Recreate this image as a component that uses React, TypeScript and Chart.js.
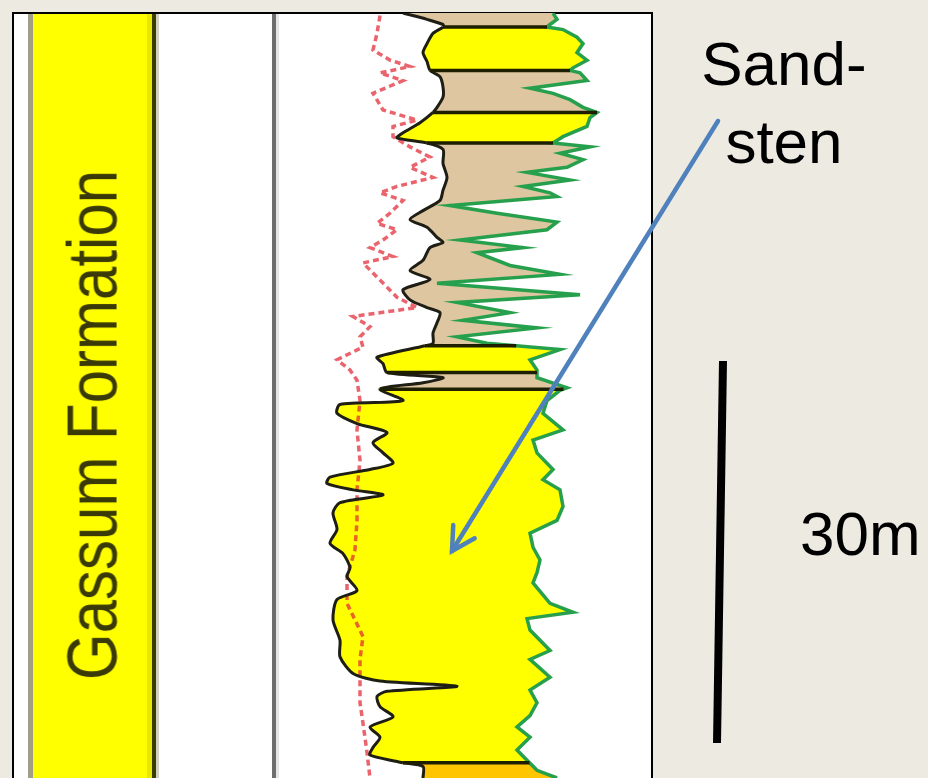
import React, { useEffect, useRef } from 'react';
import { Chart, registerables } from 'chart.js';

Chart.register(...registerables);

// Depth in metres below the top of the shown section
// Black curve (gamma ray), API
const grDepth = [0, 0.5, 0.9, 1.1, 1.6, 2.4, 3.1, 3.8, 4.5, 5.0, 5.8, 6.6, 7.4, 7.8, 8.6, 9.4, 9.8, 10.2, 10.7, 11.8, 12.9, 13.9, 14.7, 15.5, 16.2, 16.8, 17.6, 18.0, 18.4, 19.4, 20.2, 20.9, 21.7, 22.5, 23.1, 23.5, 24.3, 25.1, 25.9, 26.1, 27.0, 27.5, 28.2, 28.6, 29.0, 29.5, 30.4, 30.7, 31.4, 32.2, 32.9, 33.7, 34.5, 35.3, 35.8, 36.4, 36.9, 37.4, 37.8, 38.4, 39.2, 40.5, 41.6, 42.4, 43.5, 44.2, 45.3, 46.0, 47.6, 49.2, 50.5, 51.8, 52.4, 52.8, 53.2, 53.6, 54.4, 55.2, 56.0, 56.8, 57.6, 58.2, 58.7, 58.8, 59.1, 60.0];
const grValue = [50.4, 60.0, 66.4, 66.4, 62.4, 60.0, 58.4, 60.0, 61.2, 65.2, 66.4, 66.4, 64.0, 62.4, 57.2, 50.4, 48.0, 60.0, 66.4, 66.4, 68.0, 66.4, 65.2, 58.4, 53.2, 60.0, 64.0, 66.4, 61.2, 58.4, 53.2, 61.2, 50.4, 53.2, 60.0, 65.2, 64.0, 62.4, 62.4, 59.2, 40.0, 42.4, 44.0, 66.4, 58.4, 41.2, 50.4, 25.2, 24.0, 32.0, 44.0, 38.4, 42.4, 46.4, 37.2, 21.2, 20.0, 30.4, 42.4, 25.2, 22.4, 24.0, 21.2, 26.4, 29.2, 28.0, 32.0, 24.0, 22.4, 25.2, 25.2, 30.4, 41.2, 72.0, 44.0, 40.0, 41.2, 46.4, 37.2, 41.2, 38.4, 37.2, 48.0, 50.4, 58.4, 58.4];

// Green curve
const greenDepth = [0, 0.5, 0.9, 1.1, 1.3, 1.9, 2.4, 3.1, 3.7, 4.3, 4.5, 4.7, 5.3, 5.9, 6.3, 6.8, 7.4, 7.8, 8.2, 8.9, 9.7, 10.2, 10.5, 11.0, 11.5, 12.1, 12.5, 13.1, 13.6, 14.1, 14.4, 15.1, 15.7, 16.4, 17.0, 17.8, 18.4, 18.8, 19.8, 20.5, 21.2, 22.1, 22.7, 23.5, 24.1, 24.7, 25.4, 25.9, 26.4, 27.2, 28.0, 28.6, 29.4, 29.6, 30.4, 31.4, 32.7, 33.5, 34.5, 35.8, 36.6, 37.4, 38.7, 39.8, 40.8, 41.9, 42.9, 43.9, 44.7, 46.3, 47.0, 47.5, 48.4, 50.0, 50.7, 52.1, 53.1, 54.1, 55.1, 56.0, 56.8, 57.8, 58.6, 59.4, 60.0];
const greenValue = [110.4, 112.0, 109.2, 108.0, 114.4, 120.0, 122.4, 120.0, 124.0, 118.4, 117.2, 121.2, 124.0, 101.2, 110.4, 117.2, 122.4, 128.0, 125.2, 124.0, 114.4, 110.4, 125.2, 113.2, 122.4, 116.0, 100.0, 117.2, 98.4, 109.2, 112.0, 69.2, 88.0, 112.0, 108.0, 73.2, 98.4, 80.0, 93.2, 113.2, 64.0, 121.2, 72.0, 93.2, 74.4, 104.0, 72.0, 84.0, 113.2, 101.2, 104.0, 104.0, 116.0, 113.2, 108.0, 106.4, 114.4, 102.4, 104.0, 110.4, 106.4, 113.2, 114.4, 112.0, 101.2, 102.4, 105.2, 104.0, 102.4, 109.2, 118.4, 100.0, 101.2, 109.2, 101.2, 109.2, 101.2, 104.0, 101.2, 96.0, 101.2, 96.0, 100.0, 104.0, 112.0];

// Red dashed curve
const redDepth = [0.2, 1.6, 2.9, 3.7, 4.2, 4.7, 5.3, 6.3, 7.6, 8.4, 8.9, 9.7, 10.5, 11.3, 12.1, 12.9, 13.6, 14.1, 14.7, 15.7, 16.5, 17.0, 17.8, 18.4, 19.1, 19.6, 20.4, 21.5, 22.3, 23.1, 23.8, 24.6, 25.4, 26.2, 27.2, 28.0, 28.8, 30.4, 32.7, 35.1, 37.4, 39.8, 42.1, 44.2, 46.3, 48.9, 50.7, 52.9, 54.1, 55.7, 58.0, 60.0];
const redValue = [41.2, 40.0, 38.4, 45.2, 53.2, 41.2, 50.4, 38.4, 42.4, 56.0, 46.4, 46.4, 53.2, 61.2, 53.2, 62.4, 48.0, 41.2, 50.4, 45.2, 40.0, 48.0, 42.4, 37.2, 46.4, 34.4, 38.4, 44.0, 48.0, 56.0, 30.4, 37.2, 33.2, 34.4, 24.0, 29.2, 32.0, 33.2, 32.0, 33.2, 32.0, 32.0, 31.2, 28.0, 28.0, 34.4, 33.2, 33.2, 33.2, 34.4, 36.0, 37.2];

// Lithology intervals (bed boundaries in m) and lithology of each bed
const bedBoundaries = [0, 1.1, 4.5, 7.8, 10.2, 26.1, 28.2, 29.5, 58.8, 60];
const bedLithology = ['shale', 'sand', 'shale', 'sand', 'shale', 'sand', 'shale', 'sand', 'sand2'];
const lithColors: Record<string, string> = {
  sand: '#FFFF00',
  shale: '#DEC6A0',
  sand2: '#FFC600',
};

const formationName = 'Gassum Formation';
const annotationLabel = ['Sand-', 'sten'];
const scaleLabel = '30m';

const FONT = '"Liberation Sans", Arial, Helvetica, sans-serif';

function lithAt(d: number): string {
  for (let i = 0; i < bedLithology.length; i++) {
    if (d >= bedBoundaries[i] && d <= bedBoundaries[i + 1]) return bedLithology[i];
  }
  return 'shale';
}

function interp(depths: number[], values: number[], d: number): number {
  if (d <= depths[0]) return values[0];
  for (let i = 1; i < depths.length; i++) {
    if (d <= depths[i]) {
      const t = (d - depths[i - 1]) / (depths[i] - depths[i - 1] || 1);
      return values[i - 1] + t * (values[i] - values[i - 1]);
    }
  }
  return values[values.length - 1];
}

const decorPlugin = {
  id: 'decor',
  beforeDraw(chart: any) {
    const ctx = chart.ctx as CanvasRenderingContext2D;
    const W = chart.width;
    const H = chart.height;
    ctx.save();
    ctx.fillStyle = '#ECEAE1';
    ctx.fillRect(0, 0, W, H);
    // white panel
    ctx.fillStyle = '#FFFFFF';
    ctx.fillRect(13, 13, 639, H);
    // formation column
    ctx.fillStyle = '#A39F86';
    ctx.fillRect(28, 14, 5, H);
    ctx.fillStyle = '#FFFF00';
    ctx.fillRect(33, 14, 114, H);
    ctx.fillStyle = '#E8E800';
    ctx.fillRect(147, 14, 5, H);
    ctx.fillStyle = '#3C3C00';
    ctx.fillRect(152, 14, 4, H);
    ctx.fillStyle = '#CFCFC2';
    ctx.fillRect(156, 14, 3, H);
    // track separator
    ctx.fillStyle = '#6E6E6E';
    ctx.fillRect(272, 14, 4, H);
    ctx.fillStyle = '#E6E6E6';
    ctx.fillRect(276, 14, 3, H);
    // panel border
    ctx.strokeStyle = '#000000';
    ctx.lineWidth = 2;
    ctx.beginPath();
    ctx.moveTo(13, H + 5);
    ctx.lineTo(13, 13);
    ctx.lineTo(652, 13);
    ctx.lineTo(652, H + 5);
    ctx.stroke();
    ctx.restore();
  },
  afterDraw(chart: any) {
    const ctx = chart.ctx as CanvasRenderingContext2D;
    ctx.save();
    // scale bar
    ctx.strokeStyle = '#000000';
    ctx.lineWidth = 8;
    ctx.lineCap = 'butt';
    ctx.beginPath();
    ctx.moveTo(723, 361);
    ctx.lineTo(717, 743);
    ctx.stroke();
    // arrow
    const sx = 718, sy = 121, tx = 452, ty = 551;
    ctx.strokeStyle = '#4F81BD';
    ctx.lineWidth = 4.5;
    ctx.lineCap = 'round';
    ctx.beginPath();
    ctx.moveTo(sx, sy);
    ctx.lineTo(tx, ty);
    ctx.stroke();
    const ang = Math.atan2(sy - ty, sx - tx);
    const len = 26;
    const spread = (29 * Math.PI) / 180;
    ctx.beginPath();
    ctx.moveTo(tx + len * Math.cos(ang - spread), ty + len * Math.sin(ang - spread));
    ctx.lineTo(tx, ty);
    ctx.lineTo(tx + len * Math.cos(ang + spread), ty + len * Math.sin(ang + spread));
    ctx.lineJoin = 'miter';
    ctx.stroke();
    ctx.restore();
  },
};

export default function App() {
  const canvasRef = useRef<HTMLCanvasElement | null>(null);

  useEffect(() => {
    if (!canvasRef.current) return;

    const boundaryPts: { x: number | null; y: number }[] = [];
    for (let i = 1; i < bedBoundaries.length - 1; i++) {
      const d = bedBoundaries[i];
      boundaryPts.push({ x: interp(grDepth, grValue, d), y: d });
      boundaryPts.push({ x: interp(greenDepth, greenValue, d), y: d });
      boundaryPts.push({ x: null, y: d });
    }

    const chart = new Chart(canvasRef.current, {
      type: 'line',
      data: {
        datasets: [
          {
            label: 'Bed boundaries',
            data: boundaryPts as any,
            borderColor: '#1E1E00',
            borderWidth: 3.5,
            pointRadius: 0,
            fill: false,
            spanGaps: false,
          },
          {
            label: 'Gamma ray',
            data: grDepth.map((d, i) => ({ x: grValue[i], y: d })),
            borderColor: '#1E1E14',
            borderWidth: 3,
            tension: 0.25,
            pointRadius: 0,
            backgroundColor: lithColors.shale,
            fill: 2,
            segment: {
              backgroundColor: (c: any) => {
                const mid = (grDepth[c.p0DataIndex] + grDepth[c.p1DataIndex]) / 2;
                return lithColors[lithAt(mid)];
              },
            },
          },
          {
            label: 'Green log',
            data: greenDepth.map((d, i) => ({ x: greenValue[i], y: d })),
            borderColor: '#26A04C',
            borderWidth: 3.5,
            pointRadius: 0,
            fill: false,
          },
          {
            label: 'Red log',
            data: redDepth.map((d, i) => ({ x: redValue[i], y: d })),
            borderColor: 'rgba(226,40,52,0.72)',
            borderWidth: 3.5,
            borderDash: [6, 4],
            pointRadius: 0,
            fill: false,
          },
        ],
      },
      options: {
        indexAxis: 'y',
        animation: false,
        responsive: false,
        maintainAspectRatio: false,
        layout: { padding: { left: 277, right: 276, top: 13, bottom: 0 } },
        scales: {
          x: { type: 'linear', min: 0, max: 150, display: false },
          y: { type: 'linear', min: 0, max: 60, reverse: true, display: false },
        },
        elements: { line: { tension: 0 }, point: { radius: 0 } },
        plugins: {
          legend: { display: false },
          tooltip: { enabled: false },
          filler: { propagate: false, drawTime: 'beforeDatasetsDraw' },
        } as any,
      },
      plugins: [decorPlugin],
    } as any);

    return () => chart.destroy();
  }, []);

  return (
    <div
      style={{
        position: 'absolute',
        left: 0,
        top: 0,
        width: 928,
        height: 778,
        overflow: 'hidden',
        background: '#ECEAE1',
        fontFamily: FONT,
      }}
    >
      <canvas
        ref={canvasRef}
        width={928}
        height={778}
        style={{ position: 'absolute', left: 0, top: 0, width: 928, height: 778, display: 'block' }}
      />
      <div
        style={{
          position: 'absolute',
          left: 93,
          top: 425,
          fontSize: 60,
          lineHeight: '60px',
          whiteSpace: 'nowrap',
          color: '#3A3A08',
          transform: 'translate(-50%, -50%) rotate(-90deg) scale(1, 1.16)',
        }}
      >
        {formationName}
      </div>
      <div
        style={{
          position: 'absolute',
          left: 684,
          top: 24.5,
          width: 200,
          fontSize: 62,
          lineHeight: '78px',
          textAlign: 'center',
          color: '#000000',
          whiteSpace: 'nowrap',
        }}
      >
        {annotationLabel[0]}
        <br />
        {annotationLabel[1]}
      </div>
      <div
        style={{
          position: 'absolute',
          left: 800,
          top: 494.5,
          fontSize: 62,
          lineHeight: '78px',
          color: '#000000',
          whiteSpace: 'nowrap',
        }}
      >
        {scaleLabel}
      </div>
    </div>
  );
}
